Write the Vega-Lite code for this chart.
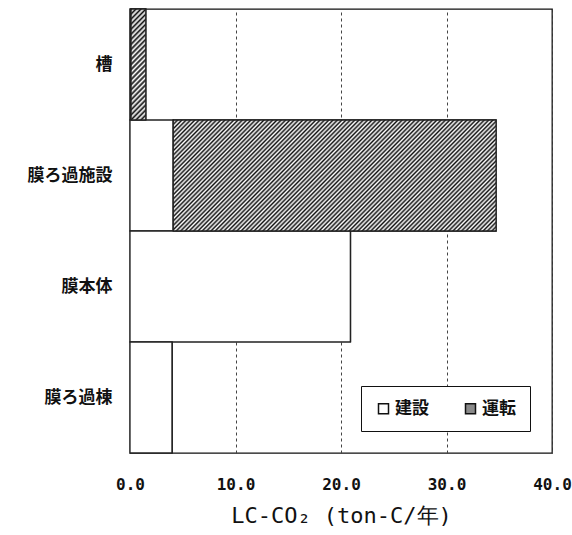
{
"$schema": "https://vega.github.io/schema/vega-lite/v6.json",
"width": 422,
"height": 444,
"autosize": {"type": "none"},
"padding": {"left": 130, "top": 9, "right": 20, "bottom": 82},
"background": "white",
"config": {"view": {"stroke": "#111", "strokeWidth": 1.3}},
"data": {"values": [
{"item": "槽", "type": "建設", "value": 0.1},
{"item": "槽", "type": "運転", "value": 1.4},
{"item": "膜ろ過施設", "type": "建設", "value": 4.1},
{"item": "膜ろ過施設", "type": "運転", "value": 30.6},
{"item": "膜本体", "type": "建設", "value": 20.9},
{"item": "膜本体", "type": "運転", "value": 0},
{"item": "膜ろ過棟", "type": "建設", "value": 4.0},
{"item": "膜ろ過棟", "type": "運転", "value": 0}
]},
"transform": [{"stack": "value", "groupby": ["item"], "sort": [{"field": "type", "order": "ascending"}], "as": ["v0", "v1"]}],
"encoding": {
"y": {"field": "item", "type": "nominal", "sort": ["槽", "膜ろ過施設", "膜本体", "膜ろ過棟"], "scale": {"paddingInner": 0, "paddingOuter": 0},
 "axis": {"title": null, "domain": false, "ticks": false, "tickSize": 0, "labelPadding": 18, "labelFont": "Noto Sans CJK JP", "labelFontSize": 17, "labelFontWeight": "bold", "labelColor": "#111"}},
"x": {"field": "v0", "type": "quantitative", "scale": {"domain": [0, 40], "nice": false},
 "axis": {"title": "LC-CO₂ (ton-C/年)", "values": [0, 10, 20, 30, 40], "format": ".1f", "grid": true, "gridDash": [3, 3], "gridColor": "#444", "gridWidth": 1, "domain": false, "ticks": false, "tickSize": 0, "labelFlush": false, "labelPadding": 23, "labelFont": "DejaVu Sans Mono", "labelFontSize": 16, "labelFontWeight": "bold", "labelColor": "#111", "titleFont": "DejaVu Sans Mono", "titleFontSize": 22, "titleFontWeight": "normal", "titleColor": "#111", "titlePadding": 13}},
"x2": {"field": "v1"}
},
"layer": [
{"mark": {"type": "bar", "stroke": "#222", "strokeWidth": 1.3},
 "encoding": {"color": {"field": "type", "type": "nominal", "scale": {"domain": ["建設", "運転"], "range": ["#ffffff", "#8a8a8a"]},
  "legend": {"title": null, "orient": "none", "legendX": 231, "legendY": 377, "direction": "horizontal", "strokeColor": "#111", "fillColor": "#ffffff", "padding": 14, "symbolType": "square", "symbolSize": 100, "symbolStrokeColor": "#111", "symbolStrokeWidth": 1.5, "labelFont": "Noto Sans CJK JP", "labelFontSize": 17, "labelFontWeight": "bold", "labelColor": "#111", "labelOffset": 3, "columnPadding": 33}}}},
{"transform": [{"filter": "datum.item === '膜ろ過施設' && datum.type === '運転'"}],
 "mark": {"type": "bar", "stroke": "#222", "strokeWidth": 1.3, "fill": {"gradient": "linear", "x1": 0, "y1": 0, "x2": 1.2009, "y2": 0.4065, "stops": [
{"offset":0,"color":"#111"},{"offset":0.005,"color":"#fff"},{"offset":0.01,"color":"#111"},{"offset":0.015,"color":"#fff"},{"offset":0.02,"color":"#111"},{"offset":0.025,"color":"#fff"},{"offset":0.03,"color":"#111"},{"offset":0.035,"color":"#fff"},{"offset":0.04,"color":"#111"},{"offset":0.045,"color":"#fff"},
{"offset":0.05,"color":"#111"},{"offset":0.055,"color":"#fff"},{"offset":0.06,"color":"#111"},{"offset":0.065,"color":"#fff"},{"offset":0.07,"color":"#111"},{"offset":0.075,"color":"#fff"},{"offset":0.08,"color":"#111"},{"offset":0.085,"color":"#fff"},{"offset":0.09,"color":"#111"},{"offset":0.095,"color":"#fff"},
{"offset":0.1,"color":"#111"},{"offset":0.105,"color":"#fff"},{"offset":0.11,"color":"#111"},{"offset":0.115,"color":"#fff"},{"offset":0.12,"color":"#111"},{"offset":0.125,"color":"#fff"},{"offset":0.13,"color":"#111"},{"offset":0.135,"color":"#fff"},{"offset":0.14,"color":"#111"},{"offset":0.145,"color":"#fff"},
{"offset":0.15,"color":"#111"},{"offset":0.155,"color":"#fff"},{"offset":0.16,"color":"#111"},{"offset":0.165,"color":"#fff"},{"offset":0.17,"color":"#111"},{"offset":0.175,"color":"#fff"},{"offset":0.18,"color":"#111"},{"offset":0.185,"color":"#fff"},{"offset":0.19,"color":"#111"},{"offset":0.195,"color":"#fff"},
{"offset":0.2,"color":"#111"},{"offset":0.205,"color":"#fff"},{"offset":0.21,"color":"#111"},{"offset":0.215,"color":"#fff"},{"offset":0.22,"color":"#111"},{"offset":0.225,"color":"#fff"},{"offset":0.23,"color":"#111"},{"offset":0.235,"color":"#fff"},{"offset":0.24,"color":"#111"},{"offset":0.245,"color":"#fff"},
{"offset":0.25,"color":"#111"},{"offset":0.255,"color":"#fff"},{"offset":0.26,"color":"#111"},{"offset":0.265,"color":"#fff"},{"offset":0.27,"color":"#111"},{"offset":0.275,"color":"#fff"},{"offset":0.28,"color":"#111"},{"offset":0.285,"color":"#fff"},{"offset":0.29,"color":"#111"},{"offset":0.295,"color":"#fff"},
{"offset":0.3,"color":"#111"},{"offset":0.305,"color":"#fff"},{"offset":0.31,"color":"#111"},{"offset":0.315,"color":"#fff"},{"offset":0.32,"color":"#111"},{"offset":0.325,"color":"#fff"},{"offset":0.33,"color":"#111"},{"offset":0.335,"color":"#fff"},{"offset":0.34,"color":"#111"},{"offset":0.345,"color":"#fff"},
{"offset":0.35,"color":"#111"},{"offset":0.355,"color":"#fff"},{"offset":0.36,"color":"#111"},{"offset":0.365,"color":"#fff"},{"offset":0.37,"color":"#111"},{"offset":0.375,"color":"#fff"},{"offset":0.38,"color":"#111"},{"offset":0.385,"color":"#fff"},{"offset":0.39,"color":"#111"},{"offset":0.395,"color":"#fff"},
{"offset":0.4,"color":"#111"},{"offset":0.405,"color":"#fff"},{"offset":0.41,"color":"#111"},{"offset":0.415,"color":"#fff"},{"offset":0.42,"color":"#111"},{"offset":0.425,"color":"#fff"},{"offset":0.43,"color":"#111"},{"offset":0.435,"color":"#fff"},{"offset":0.44,"color":"#111"},{"offset":0.445,"color":"#fff"},
{"offset":0.45,"color":"#111"},{"offset":0.455,"color":"#fff"},{"offset":0.46,"color":"#111"},{"offset":0.465,"color":"#fff"},{"offset":0.47,"color":"#111"},{"offset":0.475,"color":"#fff"},{"offset":0.48,"color":"#111"},{"offset":0.485,"color":"#fff"},{"offset":0.49,"color":"#111"},{"offset":0.495,"color":"#fff"},
{"offset":0.5,"color":"#111"},{"offset":0.505,"color":"#fff"},{"offset":0.51,"color":"#111"},{"offset":0.515,"color":"#fff"},{"offset":0.52,"color":"#111"},{"offset":0.525,"color":"#fff"},{"offset":0.53,"color":"#111"},{"offset":0.535,"color":"#fff"},{"offset":0.54,"color":"#111"},{"offset":0.545,"color":"#fff"},
{"offset":0.55,"color":"#111"},{"offset":0.555,"color":"#fff"},{"offset":0.56,"color":"#111"},{"offset":0.565,"color":"#fff"},{"offset":0.57,"color":"#111"},{"offset":0.575,"color":"#fff"},{"offset":0.58,"color":"#111"},{"offset":0.585,"color":"#fff"},{"offset":0.59,"color":"#111"},{"offset":0.595,"color":"#fff"},
{"offset":0.6,"color":"#111"},{"offset":0.605,"color":"#fff"},{"offset":0.61,"color":"#111"},{"offset":0.615,"color":"#fff"},{"offset":0.62,"color":"#111"},{"offset":0.625,"color":"#fff"},{"offset":0.63,"color":"#111"},{"offset":0.635,"color":"#fff"},{"offset":0.64,"color":"#111"},{"offset":0.645,"color":"#fff"},
{"offset":0.65,"color":"#111"},{"offset":0.655,"color":"#fff"},{"offset":0.66,"color":"#111"},{"offset":0.665,"color":"#fff"},{"offset":0.67,"color":"#111"},{"offset":0.675,"color":"#fff"},{"offset":0.68,"color":"#111"},{"offset":0.685,"color":"#fff"},{"offset":0.69,"color":"#111"},{"offset":0.695,"color":"#fff"},
{"offset":0.7,"color":"#111"},{"offset":0.705,"color":"#fff"},{"offset":0.71,"color":"#111"},{"offset":0.715,"color":"#fff"},{"offset":0.72,"color":"#111"},{"offset":0.725,"color":"#fff"},{"offset":0.73,"color":"#111"},{"offset":0.735,"color":"#fff"},{"offset":0.74,"color":"#111"},{"offset":0.745,"color":"#fff"},
{"offset":0.75,"color":"#111"},{"offset":0.755,"color":"#fff"},{"offset":0.76,"color":"#111"},{"offset":0.765,"color":"#fff"},{"offset":0.77,"color":"#111"},{"offset":0.775,"color":"#fff"},{"offset":0.78,"color":"#111"},{"offset":0.785,"color":"#fff"},{"offset":0.79,"color":"#111"},{"offset":0.795,"color":"#fff"},
{"offset":0.8,"color":"#111"},{"offset":0.805,"color":"#fff"},{"offset":0.81,"color":"#111"},{"offset":0.815,"color":"#fff"},{"offset":0.82,"color":"#111"},{"offset":0.825,"color":"#fff"},{"offset":0.83,"color":"#111"},{"offset":0.835,"color":"#fff"},{"offset":0.84,"color":"#111"},{"offset":0.845,"color":"#fff"},
{"offset":0.85,"color":"#111"},{"offset":0.855,"color":"#fff"},{"offset":0.86,"color":"#111"},{"offset":0.865,"color":"#fff"},{"offset":0.87,"color":"#111"},{"offset":0.875,"color":"#fff"},{"offset":0.88,"color":"#111"},{"offset":0.885,"color":"#fff"},{"offset":0.89,"color":"#111"},{"offset":0.895,"color":"#fff"},
{"offset":0.9,"color":"#111"},{"offset":0.905,"color":"#fff"},{"offset":0.91,"color":"#111"},{"offset":0.915,"color":"#fff"},{"offset":0.92,"color":"#111"},{"offset":0.925,"color":"#fff"},{"offset":0.93,"color":"#111"},{"offset":0.935,"color":"#fff"},{"offset":0.94,"color":"#111"},{"offset":0.945,"color":"#fff"},
{"offset":0.95,"color":"#111"},{"offset":0.955,"color":"#fff"},{"offset":0.96,"color":"#111"},{"offset":0.965,"color":"#fff"},{"offset":0.97,"color":"#111"},{"offset":0.975,"color":"#fff"},{"offset":0.98,"color":"#111"},{"offset":0.985,"color":"#fff"},{"offset":0.99,"color":"#111"},{"offset":0.995,"color":"#fff"},
{"offset":1,"color":"#111"}]}}},
{"transform": [{"filter": "datum.item === '槽' && datum.type === '運転'"}],
 "mark": {"type": "bar", "stroke": "#222", "strokeWidth": 1.3, "fill": {"gradient": "linear", "x1": 0, "y1": 0, "x2": 0.1506, "y2": 1.1148, "stops": [
{"offset":0,"color":"#111"},{"offset":0.02,"color":"#fff"},{"offset":0.04,"color":"#111"},{"offset":0.06,"color":"#fff"},{"offset":0.08,"color":"#111"},{"offset":0.1,"color":"#fff"},{"offset":0.12,"color":"#111"},{"offset":0.14,"color":"#fff"},{"offset":0.16,"color":"#111"},{"offset":0.18,"color":"#fff"},
{"offset":0.2,"color":"#111"},{"offset":0.22,"color":"#fff"},{"offset":0.24,"color":"#111"},{"offset":0.26,"color":"#fff"},{"offset":0.28,"color":"#111"},{"offset":0.3,"color":"#fff"},{"offset":0.32,"color":"#111"},{"offset":0.34,"color":"#fff"},{"offset":0.36,"color":"#111"},{"offset":0.38,"color":"#fff"},
{"offset":0.4,"color":"#111"},{"offset":0.42,"color":"#fff"},{"offset":0.44,"color":"#111"},{"offset":0.46,"color":"#fff"},{"offset":0.48,"color":"#111"},{"offset":0.5,"color":"#fff"},{"offset":0.52,"color":"#111"},{"offset":0.54,"color":"#fff"},{"offset":0.56,"color":"#111"},{"offset":0.58,"color":"#fff"},
{"offset":0.6,"color":"#111"},{"offset":0.62,"color":"#fff"},{"offset":0.64,"color":"#111"},{"offset":0.66,"color":"#fff"},{"offset":0.68,"color":"#111"},{"offset":0.7,"color":"#fff"},{"offset":0.72,"color":"#111"},{"offset":0.74,"color":"#fff"},{"offset":0.76,"color":"#111"},{"offset":0.78,"color":"#fff"},
{"offset":0.8,"color":"#111"},{"offset":0.82,"color":"#fff"},{"offset":0.84,"color":"#111"},{"offset":0.86,"color":"#fff"},{"offset":0.88,"color":"#111"},{"offset":0.9,"color":"#fff"},{"offset":0.92,"color":"#111"},{"offset":0.94,"color":"#fff"},{"offset":0.96,"color":"#111"},{"offset":0.98,"color":"#fff"},
{"offset":1,"color":"#111"}]}}}
]
}
